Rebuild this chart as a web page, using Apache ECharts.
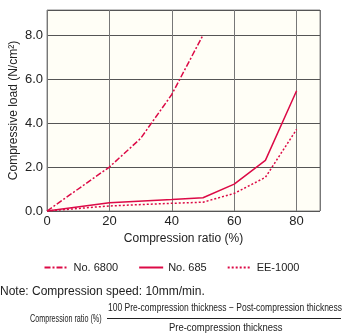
<!DOCTYPE html>
<html><head><meta charset="utf-8">
<script src="https://cdn.jsdelivr.net/npm/echarts@6/dist/echarts.min.js"></script>
<style>html,body{margin:0;padding:0;background:#fff}#c{width:343px;height:336px}</style>
</head><body><div id="c"></div>
<script>
const xs = [0, 20, 30, 40, 50];
const no6800 = [0, 2.0, 3.3, 5.3, 8.0];
const xsB = [0, 20, 40, 50, 60, 70, 80];
const no685 = [0, 0.37, 0.52, 0.6, 1.22, 2.3, 5.47];
const ee1000 = [0, 0.23, 0.35, 0.4, 0.8, 1.53, 3.71];
const seriesNames = ['No. 6800', 'No. 685', 'EE-1000'];
const xTicks = [0, 20, 40, 60, 80];
const yTicks = [0, 2, 4, 6, 8];
const RED = '#dc0a46';
const font = 'Liberation Sans, Arial, sans-serif';
const chart = echarts.init(document.getElementById('c'));
const pair = (a, b) => a.map((x, i) => [x, b[i]]);
chart.setOption({
  animation: false,
  grid: {left: 47, right: 23, top: 10, bottom: 125, containLabel: false, outerBoundsMode: 'none',
    show: true, backgroundColor: '#fffef6', borderColor: '#8a8a8a', borderWidth: 1},
  legend: {
    top: 257, left: 'center', itemWidth: 24, itemHeight: 10, itemGap: 20,
    textStyle: {fontFamily: font, fontSize: 11, color: '#222'},
    itemStyle: {opacity: 0},
    data: seriesNames
  },
  xAxis: {
    type: 'value', min: 0, max: 87.5, interval: 20,
    name: 'Compression ratio (%)', nameLocation: 'middle', nameGap: 22,
    nameTextStyle: {fontFamily: font, fontSize: 12, color: '#222'},
    axisLine: {show: false}, axisTick: {show: false},
    axisLabel: {fontFamily: font, fontSize: 13, color: '#222', margin: 4,
      formatter: v => xTicks.includes(v) ? String(v) : ''},
    splitLine: {show: true, lineStyle: {color: '#777', width: 1}}
  },
  yAxis: {
    type: 'value', min: 0, max: 9.14, interval: 2,
    name: 'Compressive load (N/cm²)', nameLocation: 'middle', nameGap: 27, nameMoveOverlap: false,
    nameTextStyle: {fontFamily: font, fontSize: 12, color: '#222'},
    axisLine: {show: false}, axisTick: {show: false},
    axisLabel: {fontFamily: font, fontSize: 13, color: '#222', margin: 4,
      formatter: v => yTicks.includes(v) ? v.toFixed(1) : ''},
    splitLine: {show: true, lineStyle: {color: '#555', width: 1}}
  },
  series: [
    {name: seriesNames[0], type: 'line', data: pair(xs, no6800), symbol: 'none',
      lineStyle: {color: RED, width: 1.5, type: [6, 2, 2, 2]}, itemStyle: {color: RED}},
    {name: seriesNames[1], type: 'line', data: pair(xsB, no685), symbol: 'none',
      lineStyle: {color: RED, width: 1.5, type: 'solid'}, itemStyle: {color: RED}},
    {name: seriesNames[2], type: 'line', data: pair(xsB, ee1000), symbol: 'none',
      lineStyle: {color: RED, width: 1.5, type: [2, 2]}, itemStyle: {color: RED}}
  ],
  graphic: [
    {type: 'text', left: 0, top: 286, style: {text: 'Note: Compression speed: 10mm/min.', font: '12px ' + font, fill: '#222'}},
    {type: 'text', x: 30, y: 314, scaleX: 0.72, style: {text: 'Compression ratio (%)', font: '10px ' + font, fill: '#222'}},
    {type: 'text', x: 108, y: 303, scaleX: 0.85, style: {text: '100 Pre-compression thickness \u2212 Post-compression thickness', font: '10px ' + font, fill: '#222'}},
    {type: 'line', shape: {x1: 107, y1: 318.5, x2: 341, y2: 318.5}, style: {stroke: '#222', lineWidth: 1}},
    {type: 'text', x: 169, y: 322, scaleX: 0.86, style: {text: 'Pre-compression thickness', font: '11px ' + font, fill: '#222'}}
  ]
});
</script></body></html>
